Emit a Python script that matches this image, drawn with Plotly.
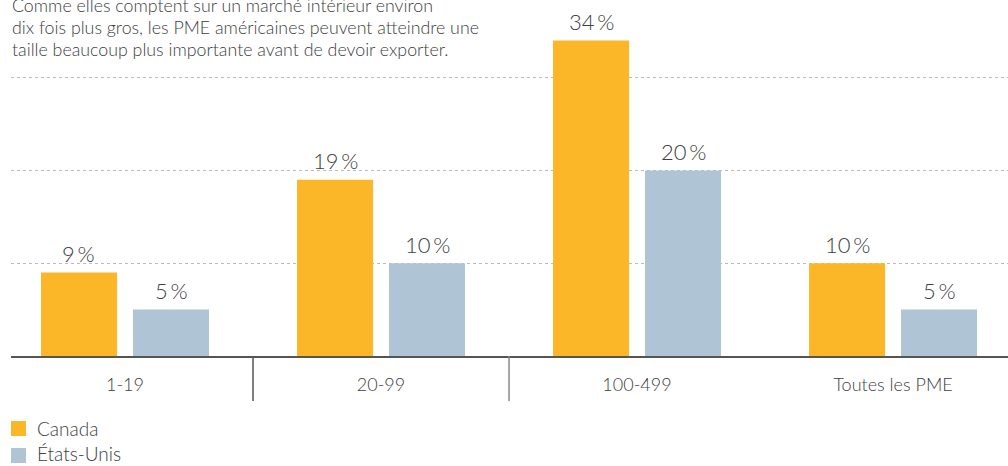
import plotly.graph_objects as go

# Export share by company size (number of employees)
categories = ["1-19", "20-99", "100-499", "Toutes les PME"]
canada = [9, 19, 34, 10]
etats_unis = [5, 10, 20, 5]
series_names = ["Canada", "États-Unis"]
colors = ["#FBB727", "#AFC4D5"]
intro_lines = [
    "Comme elles comptent sur un marché intérieur environ",
    "dix fois plus gros, les PME américaines peuvent atteindre une",
    "taille beaucoup plus importante avant de devoir exporter.",
]

W, H = 1008, 466
L, R, T, B = 11, 0, 0, 110
PLOT_W, PLOT_H = W - L - R, H - T - B
PX_PER_PCT = 9.28
FONT = "Lato, 'Open Sans', sans-serif"
TEXT = "#404040"

BAR_W = 0.297          # in category units (256 px per category)
HALF_GAP = 0.1797      # centre offset of each bar from the category centre


def px_x(px):
    return (px - L) / PLOT_W


def px_y(py):
    return (T + PLOT_H - py) / PLOT_H


fig = go.Figure()
for name, vals, col, sign in [(series_names[0], canada, colors[0], -1),
                              (series_names[1], etats_unis, colors[1], 1)]:
    fig.add_trace(go.Bar(
        x=categories, y=vals, name=name, marker_color=col,
        marker_line_width=0, width=BAR_W,
        offset=sign * HALF_GAP - BAR_W / 2,
        showlegend=False, hoverinfo="skip",
    ))

annotations = []
# value labels above each bar
for vals, sign in [(canada, -1), (etats_unis, 1)]:
    for cat, v in zip(categories, vals):
        annotations.append(dict(
            x=cat, y=v, xref="x", yref="y", text=f"{v}\u2009%",
            showarrow=False, xshift=sign * HALF_GAP * 256, yshift=19,
            yanchor="middle",
            font=dict(family=FONT, size=22, color=TEXT, weight=300),
        ))

# intro text, top left
for i, line in enumerate(intro_lines):
    annotations.append(dict(
        x=px_x(10), y=px_y(5 + i * 22), xref="paper", yref="paper",
        text=line, showarrow=False, xanchor="left", yanchor="middle",
        font=dict(family=FONT, size=17.8, color=TEXT, weight=300),
    ))

shapes = []
# separators between size groups
for xs, col in [(0.5, "#555555"), (1.5, "#888888")]:
    shapes.append(dict(type="line", xref="x", yref="paper", x0=xs, x1=xs,
                       y0=0, y1=px_y(401), line=dict(color=col, width=1.5)))

# legend
for i, (name, col) in enumerate(zip(series_names, colors)):
    top = 421 + i * 27
    shapes.append(dict(type="rect", xref="paper", yref="paper",
                       x0=px_x(11), x1=px_x(26), y0=px_y(top), y1=px_y(top + 15),
                       fillcolor=col, line=dict(width=0)))
    annotations.append(dict(
        x=px_x(35), y=px_y(top + 8 - 2 * i), xref="paper", yref="paper",
        text=name, showarrow=False, xanchor="left", yanchor="middle",
        font=dict(family=FONT, size=19, color=TEXT, weight=300),
    ))

fig.update_layout(
    width=W, height=H,
    margin=dict(l=L, r=R, t=T, b=B, pad=0),
    paper_bgcolor="white", plot_bgcolor="white",
    barmode="overlay",
    annotations=annotations, shapes=shapes,
    xaxis=dict(
        range=[-0.4453, 3.449], showgrid=False, zeroline=False,
        showline=True, linecolor="#555555", linewidth=2,
        ticks="", ticklabelstandoff=11,
        tickfont=dict(family=FONT, size=18, color=TEXT, weight=300),
        fixedrange=True,
    ),
    yaxis=dict(
        range=[0, PLOT_H / PX_PER_PCT], tickvals=[10, 20, 30],
        showticklabels=False, showgrid=True, gridcolor="#BBBBBB",
        gridwidth=1, griddash="dot", zeroline=False, showline=False,
        fixedrange=True,
    ),
)

fig.write_html("out.html", config={"displayModeBar": False})
